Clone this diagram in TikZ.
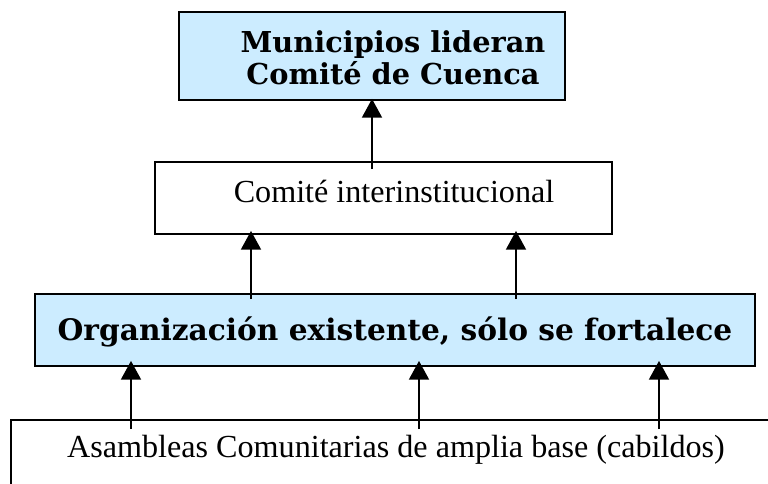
\documentclass[tikz,border=0pt]{standalone}
\usepackage{fontspec}
\setmainfont{Liberation Serif}
\newfontfamily\bkfont{DejaVu Serif}
\usetikzlibrary{fit,arrows.meta}
\definecolor{paleblue}{HTML}{CCECFF}
\tikzset{
  boxstyle/.style={draw=black, line width=1.4pt, inner sep=0pt},
  bluebox/.style={boxstyle, fill=paleblue},
  whitebox/.style={boxstyle, fill=white},
  uparrow/.style={line width=1.2pt, -{Triangle[length=14pt,width=15pt]}},
  boldtext/.style={font=\bkfont\bfseries\fontsize{21.6pt}{24pt}\selectfont, align=center, inner sep=0pt},
  plaintext/.style={font=\fontsize{24.1pt}{28pt}\selectfont, inner sep=0pt}
}
\begin{document}
\begin{tikzpicture}[x=0.75pt, y=-0.75pt]
\clip (0,0) rectangle (768,484);
\fill[white] (0,0) rectangle (768,484);
% boxes
\node[bluebox, fit={(179,12) (565,100)}] (top) {};
\node[whitebox, fit={(155,162) (612,234)}] (mid) {};
\node[bluebox, fit={(35,294) (755,366)}] (org) {};
\node[whitebox, fit={(11,420) (800,540)}] (base) {};
% texts
\node[boldtext, anchor=base] (toptxt) at (393,85) {Municipios lideran\\Comité de Cuenca};
\node[plaintext, anchor=base] (midtxt) at (394,203) {Comité interinstitucional};
\node[boldtext, anchor=base] (orgtxt) at (395,341) {\resizebox{506pt}{!}{Organización existente, sólo se fortalece}};
\node[plaintext, anchor=base] (basetxt) at (396,458) {Asambleas Comunitarias de amplia base (cabildos)};
% arrow columns
\coordinate (c0) at (372,0);
\coordinate (c1) at (251,0);
\coordinate (c2) at (516,0);
\coordinate (c3) at (131,0);
\coordinate (c4) at (419,0);
\coordinate (c5) at (659,0);
% connectors
\draw[uparrow] ([yshift=-6pt]mid.north -| c0) -- ([yshift=1.5pt]top.south -| c0);
\draw[uparrow] ([yshift=-4.5pt]org.north -| c1) -- ([yshift=3pt]mid.south -| c1);
\draw[uparrow] ([yshift=-4.5pt]org.north -| c2) -- ([yshift=3pt]mid.south -| c2);
\draw[uparrow] ([yshift=-7.5pt]base.north -| c3) -- ([yshift=4.5pt]org.south -| c3);
\draw[uparrow] ([yshift=-7.5pt]base.north -| c4) -- ([yshift=4.5pt]org.south -| c4);
\draw[uparrow] ([yshift=-7.5pt]base.north -| c5) -- ([yshift=4.5pt]org.south -| c5);
\end{tikzpicture}
\end{document}
